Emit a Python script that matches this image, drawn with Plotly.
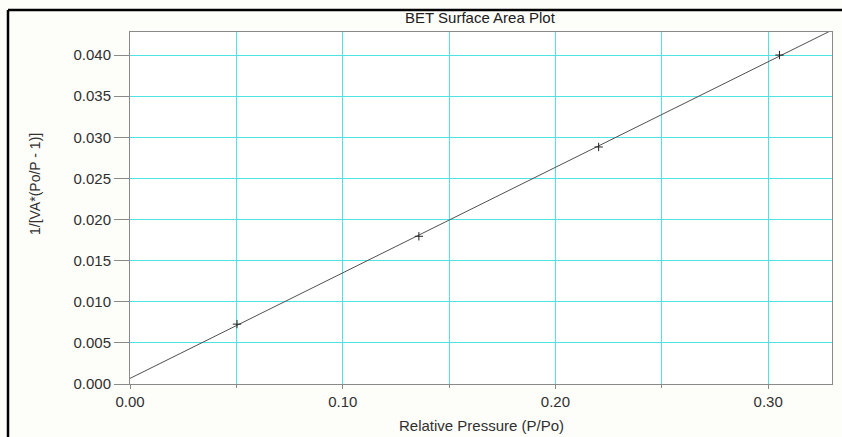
import numpy as np
import plotly.graph_objects as go

# Measured BET points
rel_pressure = [0.0503, 0.1358, 0.2203, 0.3053]
bet_transform = [0.00728, 0.01796, 0.02882, 0.04000]

x_ticks = [0.0, 0.1, 0.2, 0.3]
x_tick_labels = ["0.00", "0.10", "0.20", "0.30"]

x_range = [0.0, 0.33]
y_range = [0.0, 0.0428]

# Least-squares BET line through the measured points, drawn across the axis
slope, intercept = np.polyfit(rel_pressure, bet_transform, 1)
fit_x = np.array(x_range)
fit_y = slope * fit_x + intercept

GRID = "#4fe4e2"
AXIS = "#8a8a8a"
TXT = "#303030"
FONT = "Liberation Sans, Arial, sans-serif"

# plot-area geometry in pixels (used to place the text labels)
L, R, T, B, W, H = 130, 10, 32, 53, 842, 437
PW, PH = W - L - R, H - T - B


def px_x(px):
    return (px - L) / PW


def px_y(py):
    return (H - B - py) / PH


fig = go.Figure()
fig.add_trace(go.Scatter(
    x=fit_x, y=fit_y, mode="lines",
    line=dict(color="#505050", width=1),
    hoverinfo="skip", showlegend=False,
))
fig.add_trace(go.Scatter(
    x=rel_pressure, y=bet_transform, mode="markers",
    marker=dict(symbol="cross-thin", size=6, line=dict(color="#222222", width=1)),
    showlegend=False,
))

fig.update_layout(
    width=W, height=H,
    margin=dict(l=L, r=R, t=T, b=B),
    paper_bgcolor="#fdfdf9",
    plot_bgcolor="#ffffff",
    font=dict(family=FONT, color=TXT, size=15),
    xaxis=dict(
        range=x_range, tickvals=x_ticks, ticktext=x_tick_labels,
        showgrid=True, gridcolor=GRID, gridwidth=1,
        ticks="outside", ticklen=4, tickcolor=AXIS,
        minor=dict(dtick=0.05, showgrid=True, gridcolor=GRID, gridwidth=1,
                   ticks="outside", ticklen=3, tickcolor=AXIS),
        showline=True, linecolor=AXIS, linewidth=1, mirror=True,
        zeroline=False,
        tickfont=dict(size=15, color=TXT),
    ),
    yaxis=dict(
        range=y_range, dtick=0.005, tickformat=".3f",
        showgrid=True, gridcolor=GRID, gridwidth=1,
        ticks="outside", ticklen=15, tickcolor=AXIS,
        showline=True, linecolor=AXIS, linewidth=1, mirror=True,
        zeroline=False,
        tickfont=dict(size=15, color=TXT),
    ),
    annotations=[
        dict(text="BET Surface Area Plot", xref="paper", yref="paper",
             x=px_x(480), y=px_y(18), xanchor="center", yanchor="middle",
             showarrow=False, font=dict(size=15, color="#202020")),
        dict(text="Relative Pressure (P/Po)", xref="paper", yref="paper",
             x=px_x(481), y=px_y(425), xanchor="center", yanchor="middle",
             showarrow=False, font=dict(size=15, color=TXT)),
        dict(text="1/[VA*(Po/P - 1)]", xref="paper", yref="paper",
             x=px_x(35), y=px_y(184), xanchor="center", yanchor="middle",
             textangle=-90, showarrow=False, font=dict(size=14, color=TXT)),
    ],
    shapes=[
        # black frame along the top and left edge of the page
        dict(type="line", xref="paper", yref="paper",
             x0=px_x(8), x1=px_x(860), y0=px_y(10), y1=px_y(10),
             line=dict(color="#000000", width=2.5)),
        dict(type="line", xref="paper", yref="paper",
             x0=px_x(8), x1=px_x(8), y0=px_y(460), y1=px_y(10),
             line=dict(color="#000000", width=2.5)),
    ],
)

fig.write_html("out.html")
